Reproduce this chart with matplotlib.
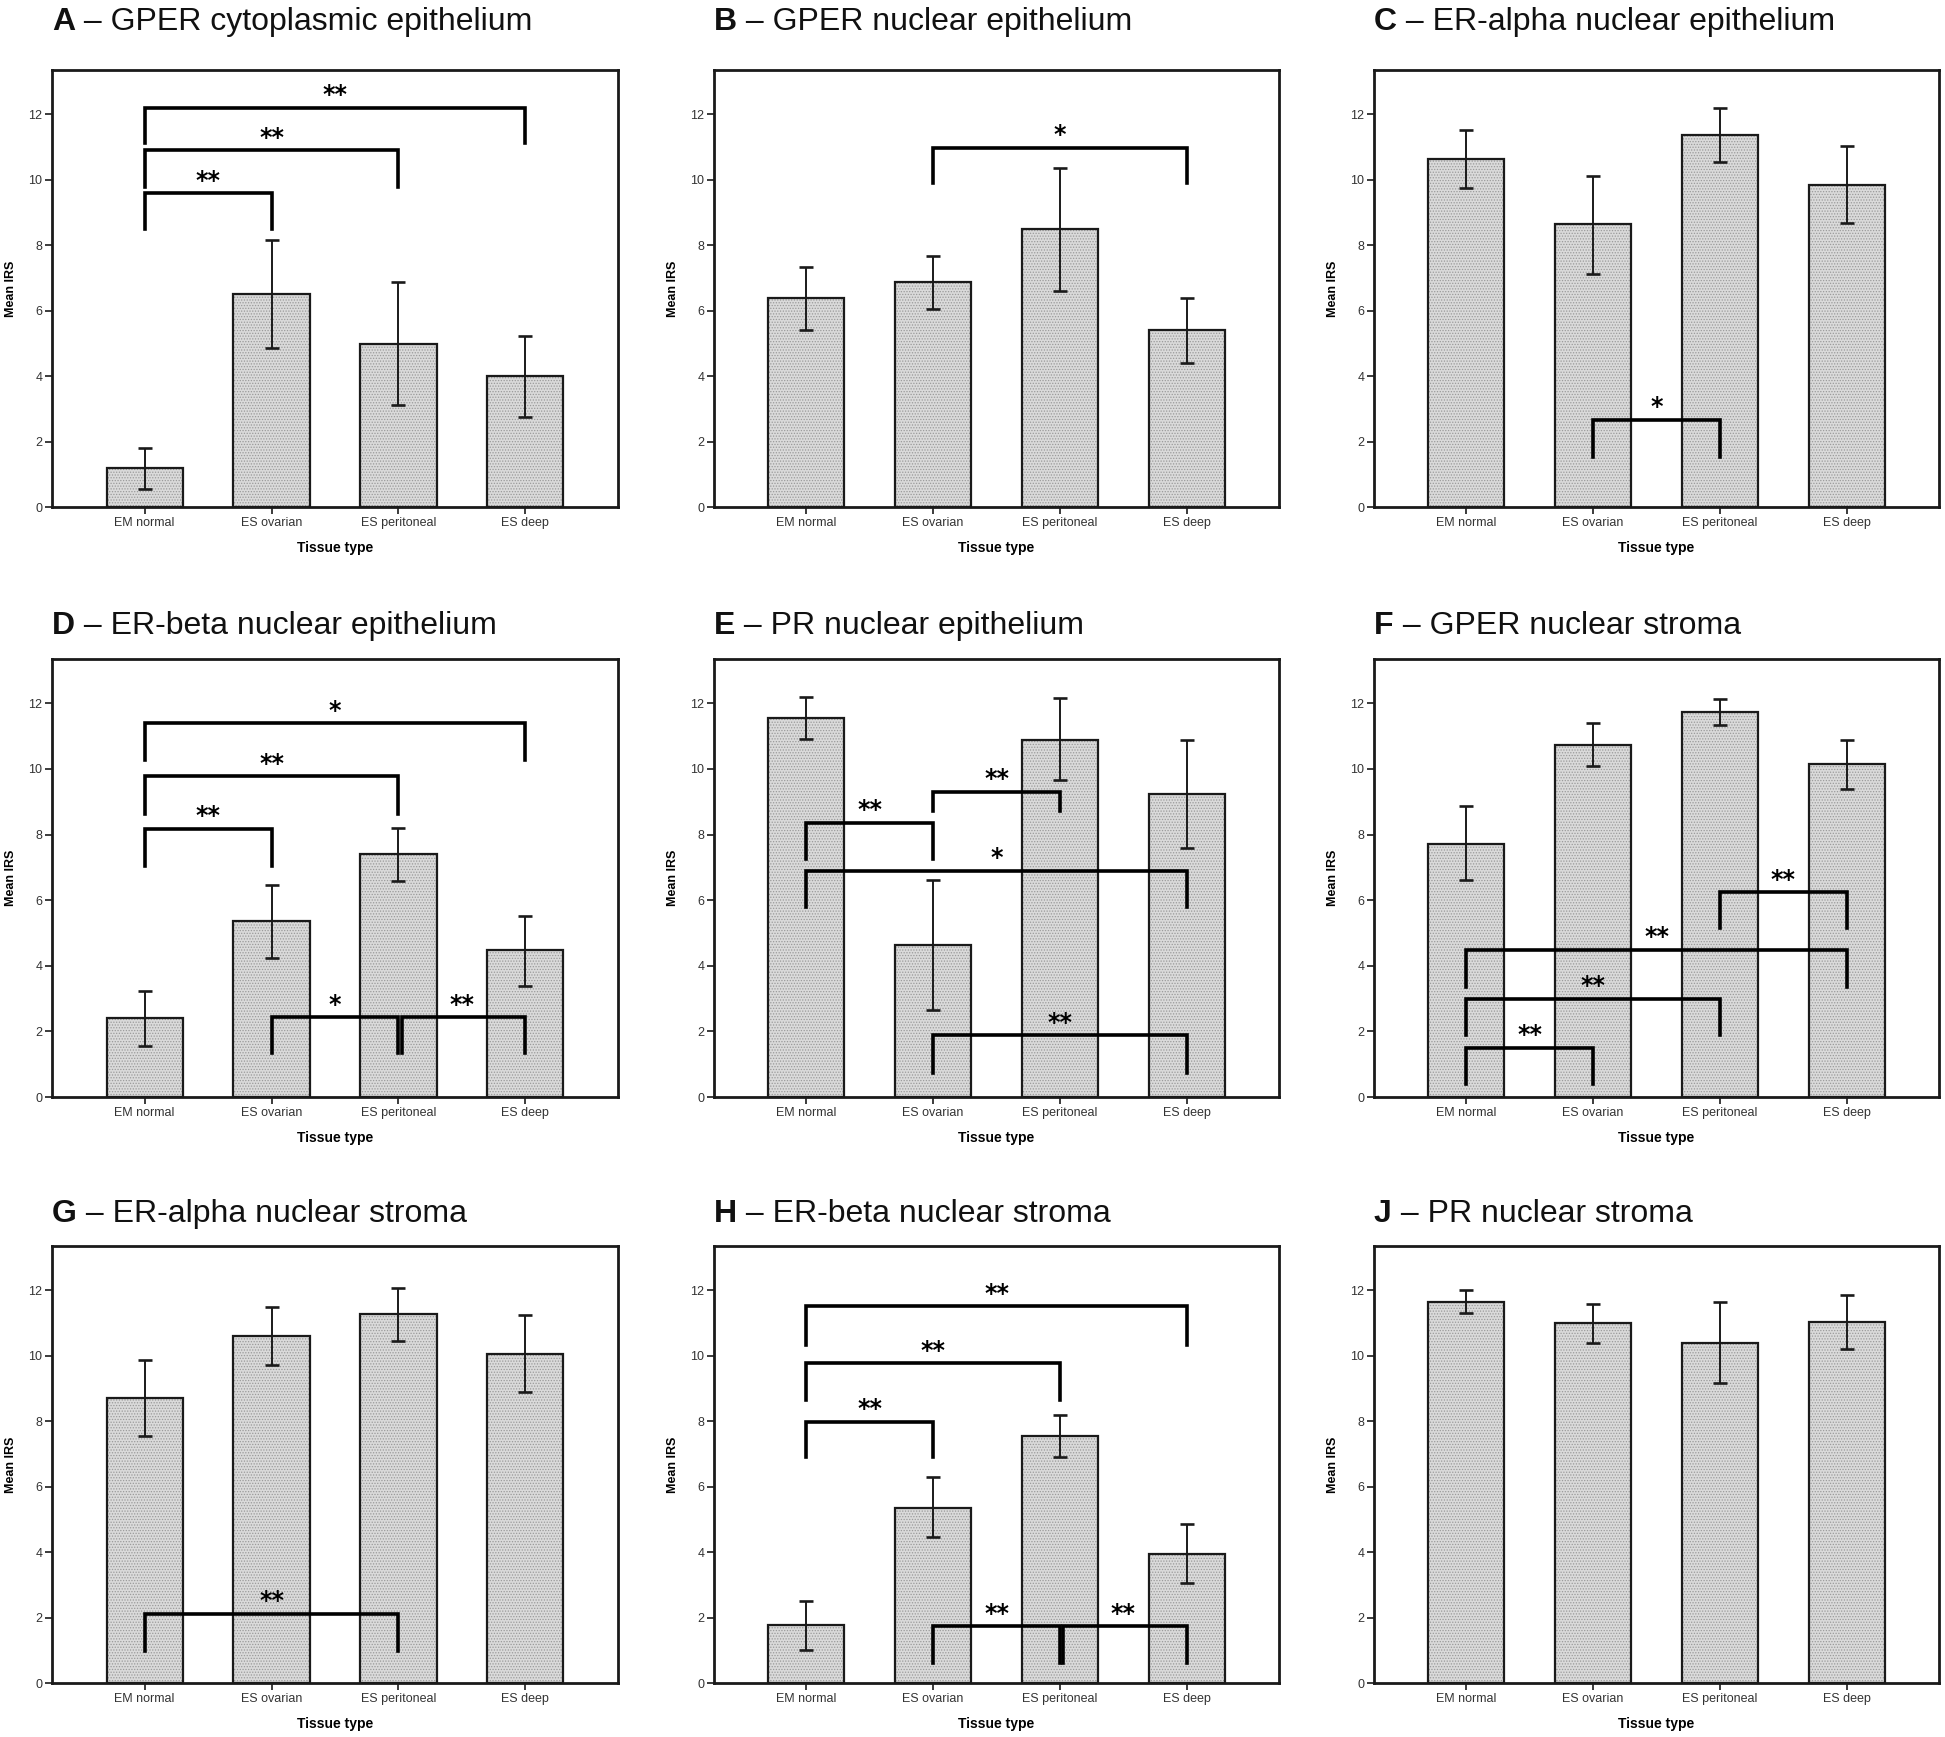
import matplotlib
matplotlib.use("Agg")
import matplotlib.pyplot as plt
import numpy as np

plt.rcParams['font.family'] = ['Liberation Sans', 'DejaVu Sans']
plt.rcParams['hatch.linewidth'] = 0.6

W, H = 1945, 1737

tissue = ["EM normal", "ES ovarian", "ES peritoneal", "ES deep"]

# panel letters and names
letters = ["A", "B", "C", "D", "E", "F", "G", "H", "J"]
names = ["GPER cytoplasmic epithelium", "GPER nuclear epithelium",
         "ER-alpha nuclear epithelium", "ER-beta nuclear epithelium",
         "PR nuclear epithelium", "GPER nuclear stroma",
         "ER-alpha nuclear stroma", "ER-beta nuclear stroma",
         "PR nuclear stroma"]

# mean IRS, lower and upper error bar ends
a_mean = [1.19, 6.52, 4.97, 3.99]
a_lo = [0.54, 4.86, 3.13, 2.75]
a_hi = [1.79, 8.16, 6.86, 5.22]

b_mean = [6.38, 6.86, 8.50, 5.40]
b_lo = [5.42, 6.05, 6.61, 4.41]
b_hi = [7.34, 7.68, 10.36, 6.40]

c_mean = [10.62, 8.64, 11.36, 9.85]
c_lo = [9.74, 7.12, 10.54, 8.67]
c_hi = [11.53, 10.11, 12.20, 11.04]

d_mean = [2.41, 5.37, 7.41, 4.47]
d_lo = [1.54, 4.25, 6.59, 3.39]
d_hi = [3.23, 6.47, 8.19, 5.51]

e_mean = [11.56, 4.63, 10.88, 9.24]
e_lo = [10.90, 2.65, 9.65, 7.58]
e_hi = [12.19, 6.60, 12.16, 10.88]

f_mean = [7.71, 10.72, 11.74, 10.14]
f_lo = [6.60, 10.10, 11.34, 9.40]
f_hi = [8.86, 11.40, 12.13, 10.87]

g_mean = [8.71, 10.59, 11.26, 10.04]
g_lo = [7.55, 9.72, 10.45, 8.88]
g_hi = [9.86, 11.49, 12.08, 11.24]

h_mean = [1.76, 5.35, 7.55, 3.94]
h_lo = [1.00, 4.47, 6.89, 3.04]
h_hi = [2.50, 6.30, 8.20, 4.86]

j_mean = [11.65, 10.99, 10.40, 11.02]
j_lo = [11.29, 10.39, 9.17, 10.21]
j_hi = [12.02, 11.58, 11.64, 11.86]

# significance brackets: (from group, to group, bracket level, leg drop, label)
a_sig = [(0, 1, 9.58, 1.1, "**"), (0, 2, 10.9, 1.12, "**"), (0, 3, 12.2, 1.07, "**")]
b_sig = [(1, 3, 10.98, 1.09, "*")]
c_sig = [(1, 2, 2.66, 1.13, "*")]
d_sig = [(0, 1, 8.17, 1.13, "**"), (0, 2, 9.77, 1.13, "**"), (0, 3, 11.39, 1.13, "*"),
         (1, 2, 2.43, 1.1, "*"), (2, 3, 2.43, 1.1, "**")]
e_sig = [(0, 1, 8.36, 1.11, "**"), (1, 2, 9.30, 0.58, "**"), (0, 3, 6.90, 1.1, "*"),
         (1, 3, 1.88, 1.14, "**")]
f_sig = [(0, 1, 1.50, 1.09, "**"), (0, 2, 2.99, 1.09, "**"), (0, 3, 4.49, 1.13, "**"),
         (2, 3, 6.24, 1.1, "**")]
g_sig = [(0, 2, 2.12, 1.14, "**")]
h_sig = [(0, 1, 7.98, 1.09, "**"), (0, 2, 9.77, 1.12, "**"), (0, 3, 11.51, 1.17, "**"),
         (1, 2, 1.74, 1.12, "**"), (2, 3, 1.74, 1.12, "**")]
j_sig = []

panels = [(a_mean, a_lo, a_hi, a_sig), (b_mean, b_lo, b_hi, b_sig),
          (c_mean, c_lo, c_hi, c_sig), (d_mean, d_lo, d_hi, d_sig),
          (e_mean, e_lo, e_hi, e_sig), (f_mean, f_lo, f_hi, f_sig),
          (g_mean, g_lo, g_hi, g_sig), (h_mean, h_lo, h_hi, h_sig),
          (j_mean, j_lo, j_hi, j_sig)]

# axes boxes in pixels
cols = [(52, 618), (714, 1279), (1374, 1939)]
rows = [(70, 507), (659, 1097), (1246, 1683)]
title_base = [30, 634, 1222]

fig = plt.figure(figsize=(W / 100, H / 100), dpi=100)
ink = '#1a1a1a'

for k, (mean, lo, hi, sig) in enumerate(panels):
    r, c = divmod(k, 3)
    l, rr = cols[c]
    t, b = rows[r]
    ax = fig.add_axes([l / W, 1 - b / H, (rr - l) / W, (b - t) / H])
    x = np.arange(4)
    mean = np.array(mean)
    ax.bar(x, mean, 0.6, color='#dadada', edgecolor='#9a9a9a', hatch='......',
           linewidth=0, zorder=1)
    ax.bar(x, mean, 0.6, facecolor='none', edgecolor=ink, linewidth=1.6, zorder=2)
    ax.errorbar(x, mean, yerr=[mean - np.array(lo), np.array(hi) - mean], fmt='none',
                ecolor=ink, elinewidth=1.4, capsize=5, capthick=1.9, zorder=3)
    prev = set()
    for i, j, y, leg, lab in sig:
        # where two brackets share a leg, the second sits just beside the first
        xi = i + (0.025 if (i, y) in prev else 0)
        prev.add((j, y))
        ax.plot([xi, xi, j, j], [y - leg, y, y, y - leg], color='black', lw=2.6,
                solid_joinstyle='miter', zorder=4)
        ax.text((i + j) / 2, y + 0.38, lab, ha='center', va='center', fontsize=17,
                fontweight='bold', family='DejaVu Sans', zorder=5)
    ax.set_xlim(-0.73, 3.73)
    ax.set_ylim(0, 13.35)
    ax.set_yticks(range(0, 13, 2))
    ax.set_xticks(x, tissue)
    ax.tick_params(direction='out', length=5, width=1.2, labelsize=9, pad=2,
                   labelcolor='#333333', color=ink)
    for s in ax.spines.values():
        s.set_linewidth(2)
        s.set_color(ink)
    ax.set_xlabel('Tissue type', fontsize=10, fontweight='bold', labelpad=9)
    ax.set_ylabel('Mean IRS', fontsize=9, fontweight='bold', labelpad=8)

    tl = fig.text(l / W, 1 - title_base[r] / H, letters[k], fontsize=23,
                  fontweight='bold', va='baseline', color='#111111')
    fig.add_artist(matplotlib.text.Annotation(" \u2013 " + names[k], xy=(1, 0),
                   xycoords=tl, va='bottom', fontsize=23, color='#111111'))

fig.savefig("out.png", dpi=100, facecolor='white')
